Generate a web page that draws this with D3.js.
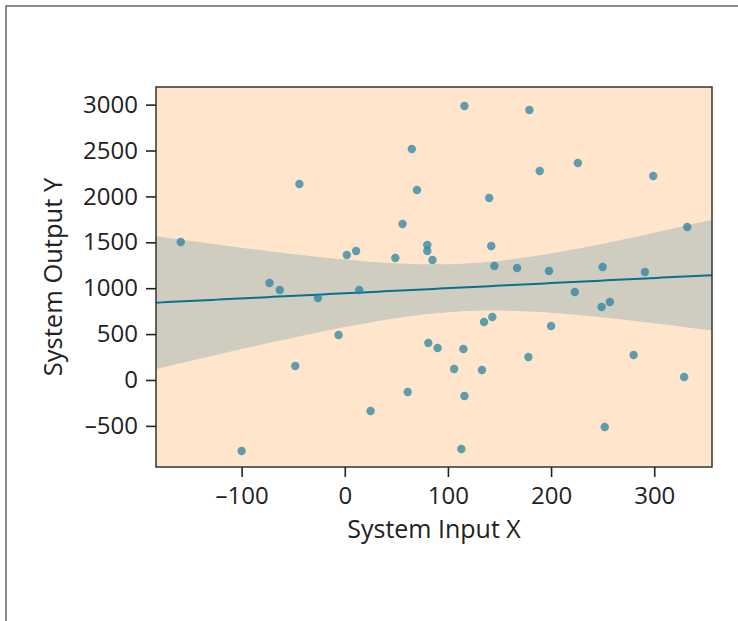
<!DOCTYPE html>
<html>
<head>
<meta charset="utf-8">
<script src="https://cdn.jsdelivr.net/npm/d3@7"></script>
<style>
  html, body { margin: 0; padding: 0; background: #fff; }
  svg { display: block; font-family: "Open Sans", sans-serif; }
</style>
</head>
<body>
<svg id="chart" width="738" height="621"></svg>
<script>
// values
const inputX = [-159, -73, -63, -44, -26, -48, -100, -6, 2, 11, 14, 25, 61,
    116, 179, 65, 189, 226, 299, 70, 140, 56, 332, 80, 80, 49, 85, 142, 145,
    167, 198, 250, 291, 223, 249, 257, 135, 143, 200, 81, 90, 115, 178, 280,
    106, 133, 329, 116, 252, 113];
const outputY = [1503, 1057, 980, 2135, 893, 153, -773, 490, 1362, 1405, 980, -338, -131,
    2985, 2941, 2516, 2277, 2364, 2222, 2070, 1983, 1699, 1667, 1471, 1405, 1329, 1307, 1460, 1242,
    1220, 1187, 1231, 1176, 959, 795, 850, 632, 686, 588, 403, 349, 338, 251, 272,
    120, 109, 33, -174, -512, -752];
const xTicks = [-100, 0, 100, 200, 300];
const yTicks = [-500, 0, 500, 1000, 1500, 2000, 2500, 3000];

const svg = d3.select("#chart");
const plot = { left: 156, top: 87, right: 712, bottom: 467 };

// outer frame, runs off the right and bottom of the window
svg.append("rect")
    .attr("x", 6).attr("y", 6)
    .attr("width", 800).attr("height", 700)
    .attr("fill", "none")
    .attr("stroke", "#666")
    .attr("stroke-width", 1.5);

const x = d3.scaleLinear().domain([-183, 356]).range([plot.left, plot.right]);
const y = d3.scaleLinear().domain([-948, 3192]).range([plot.bottom, plot.top]);

const points = inputX.map((v, i) => ({ x: v, y: outputY[i] }));

// least squares fit + 95% confidence band
const n = points.length;
const mx = d3.mean(points, d => d.x);
const my = d3.mean(points, d => d.y);
const sxx = d3.sum(points, d => (d.x - mx) ** 2);
const sxy = d3.sum(points, d => (d.x - mx) * (d.y - my));
const slope = sxy / sxx;
const intercept = my - slope * mx;
const resid = d3.sum(points, d => (d.y - (intercept + slope * d.x)) ** 2);
const s = Math.sqrt(resid / (n - 2));
const tCrit = 2.011;

const grid = d3.range(101).map(i => {
    const xv = x.domain()[0] + i * (x.domain()[1] - x.domain()[0]) / 100;
    const fit = intercept + slope * xv;
    const half = tCrit * s * Math.sqrt(1 / n + (xv - mx) ** 2 / sxx);
    return { x: xv, fit, lo: fit - half, hi: fit + half };
});

svg.append("defs").append("clipPath").attr("id", "plot-clip")
    .append("rect")
    .attr("x", plot.left).attr("y", plot.top)
    .attr("width", plot.right - plot.left).attr("height", plot.bottom - plot.top);

svg.append("rect")
    .attr("x", plot.left).attr("y", plot.top)
    .attr("width", plot.right - plot.left).attr("height", plot.bottom - plot.top)
    .attr("fill", "#fee5cb");

const inner = svg.append("g").attr("clip-path", "url(#plot-clip)");

inner.append("path")
    .datum(grid)
    .attr("fill", "#cecdbf")
    .attr("d", d3.area().x(d => x(d.x)).y0(d => y(d.lo)).y1(d => y(d.hi)));

inner.append("path")
    .datum(grid)
    .attr("fill", "none")
    .attr("stroke", "#08718f")
    .attr("stroke-width", 2)
    .attr("d", d3.line().x(d => x(d.x)).y(d => y(d.fit)));

inner.selectAll("circle")
    .data(points)
    .enter()
    .append("circle")
    .attr("cx", d => x(d.x))
    .attr("cy", d => y(d.y))
    .attr("r", 4.2)
    .attr("fill", "#2180a0")
    .attr("fill-opacity", 0.72);

// plot box
svg.append("rect")
    .attr("x", plot.left).attr("y", plot.top)
    .attr("width", plot.right - plot.left).attr("height", plot.bottom - plot.top)
    .attr("fill", "none")
    .attr("stroke", "#333")
    .attr("stroke-width", 1.5);

const fmt = d => (d < 0 ? "\u2013" + Math.abs(d) : String(d));

const xAxis = svg.append("g")
    .attr("transform", `translate(0,${plot.bottom})`)
    .call(d3.axisBottom(x).tickValues(xTicks).tickFormat(fmt).tickSize(10).tickPadding(10));

const yAxis = svg.append("g")
    .attr("transform", `translate(${plot.left},0)`)
    .call(d3.axisLeft(y).tickValues(yTicks).tickFormat(fmt).tickSize(10).tickPadding(8));

[xAxis, yAxis].forEach(g => {
    g.select(".domain").remove();
    g.selectAll(".tick line").attr("stroke", "#222").attr("stroke-width", 1.6);
    g.selectAll(".tick text")
        .attr("fill", "#222")
        .style("font-family", "'Open Sans', sans-serif")
        .style("font-size", "24px");
});

svg.append("text")
    .attr("x", (plot.left + plot.right) / 2)
    .attr("y", 538)
    .attr("text-anchor", "middle")
    .attr("fill", "#222")
    .style("font-size", "25px")
    .text("System Input X");

svg.append("text")
    .attr("transform", `translate(62,${(plot.top + plot.bottom) / 2}) rotate(-90)`)
    .attr("text-anchor", "middle")
    .attr("fill", "#222")
    .style("font-size", "25.5px")
    .text("System Output Y");
</script>
</body>
</html>
